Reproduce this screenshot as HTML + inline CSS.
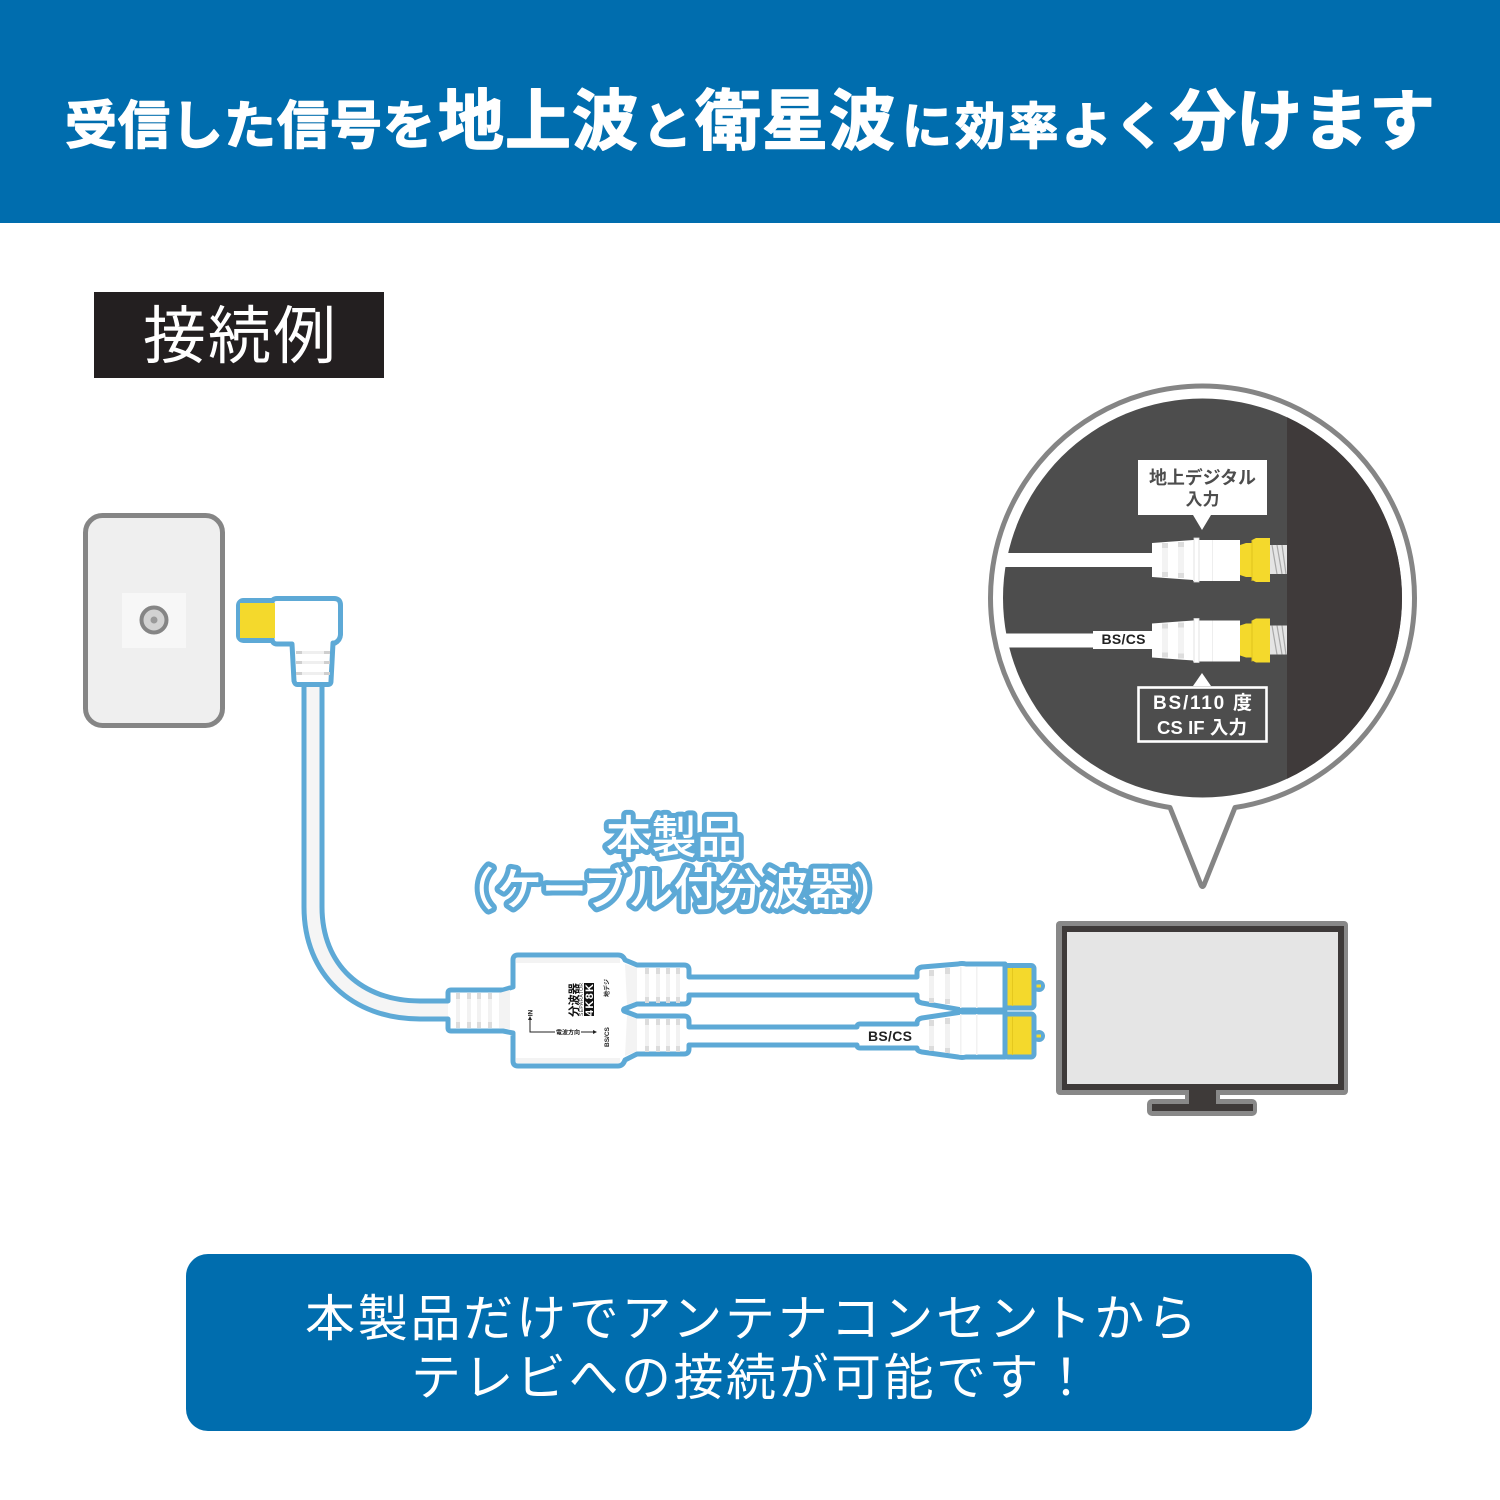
<!DOCTYPE html>
<html lang="ja"><head><meta charset="utf-8"><title>接続例</title>
<style>
html,body{margin:0;padding:0;background:#fff}
svg{display:block}
text{font-family:"Liberation Sans","Noto Sans CJK JP",sans-serif}
.cjk{font-family:"Noto Sans CJK JP","Liberation Sans",sans-serif}
.h{font-weight:700;fill:#fff;stroke:#fff;stroke-width:1.4;stroke-linejoin:round}
.b{stroke:#5DA9D6;stroke-width:5;stroke-linejoin:round;stroke-linecap:round}
.ol{font-size:45px;font-weight:500;fill:#fff;stroke:#5DA9D6;stroke-width:10;paint-order:stroke;stroke-linejoin:round}
</style></head><body>
<svg width="1500" height="1500" viewBox="0 0 1500 1500" xmlns="http://www.w3.org/2000/svg">
<rect width="1500" height="1500" fill="#fff"/>
<rect width="1500" height="223" fill="#006DAE"/>
<g class="cjk">
<text class="h cjk" x="65" y="144" font-size="52" textLength="370">受信した信号を</text>
<text class="h cjk" x="438" y="144" font-size="66" textLength="200">地上波</text>
<text class="h cjk" x="642" y="144" font-size="50" textLength="50">と</text>
<text class="h cjk" x="695" y="144" font-size="66" textLength="200">衛星波</text>
<text class="h cjk" x="902" y="144" font-size="50" textLength="263">に効率よく</text>
<text class="h cjk" x="1170" y="144" font-size="66" textLength="265">分けます</text>
</g>
<rect x="94" y="292" width="290" height="86" fill="#231F20"/>
<text class="cjk" x="143" y="358" font-size="63" fill="#fff" textLength="193">接続例</text>

<!-- wall plate -->
<rect x="85.5" y="515.5" width="137" height="210" rx="17" fill="#EFEFEF" stroke="#858585" stroke-width="5"/>
<rect x="122" y="593" width="64" height="55" fill="#F7F7F7"/>
<circle cx="154" cy="620" r="12.5" fill="#D2D2D2" stroke="#858585" stroke-width="4"/>
<circle cx="154" cy="620" r="3.5" fill="#999"/>

<!-- coax cable -->
<path d="M304,680 V907 C304,975 352,1019 420,1019 H450 V1001 H420 C362,1001 322,965 322,907 V680 Z" fill="#F5F5F5"/>
<path class="b" fill="none" d="M304,684 V907 C304,975 352,1019 420,1019 H448"/>
<path class="b" fill="none" d="M322,684 V907 C322,965 362,1001 420,1001 H448"/>

<!-- elbow plug -->
<rect class="b" x="238.5" y="600.5" width="40" height="40" rx="5" fill="#F4D92C"/>
<path class="b" fill="#fff" d="M272,603 Q272,598.5 277,598.5 H334 Q340.5,598.5 340.5,605 V634 Q340.5,640 335,643 H333 L331,681 Q331,684.5 328,684.5 H297 Q295,684.5 294,681 L292,644 H277 Q272,644 272,638 Z"/>
<rect x="240" y="603" width="35" height="35" fill="#F4D92C"/>
<g fill="#EFEFEF"><rect x="296" y="651" width="33" height="3"/><rect x="296" y="661" width="33" height="3"/><rect x="296" y="672" width="33" height="3"/></g>
<g fill="#CFCFCF"><rect x="296" y="651" width="6" height="3"/><rect x="296" y="661" width="6" height="3"/><rect x="296" y="672" width="6" height="3"/><rect x="324" y="651" width="6" height="3"/><rect x="324" y="661" width="6" height="3"/><rect x="324" y="672" width="6" height="3"/></g>

<!-- product label -->
<text class="ol cjk" x="606" y="853" textLength="136">本製品</text>
<text class="ol cjk" x="449" y="905">（</text>
<text class="ol cjk" x="497" y="905" textLength="356">ケーブル付分波器</text>
<text class="ol cjk" x="853" y="905">）</text>

<!-- nubs -->
<circle cx="1039" cy="986" r="6" fill="#5DA9D6"/>
<circle cx="1039" cy="1036" r="6" fill="#5DA9D6"/>
<rect x="1034" y="984.5" width="7" height="3" fill="#F4D92C"/>
<rect x="1034" y="1034.5" width="7" height="3" fill="#F4D92C"/>
<!-- splitter + cables outline -->
<path class="b" fill="#fff" d="M448,1001 V993 Q448,990 451,990 H503 L513,987 V960 Q513,955 518,955 H618 Q623,955 625,960 L637,965 H684 Q689,965 689,970 V977 H917 V972 Q917,968 922,967 L958,964 Q962,963 966,964 H1005 V1010 H962 L922,1003 Q917,1002 917,998 V995 H689 V999 Q689,1004 684,1004 H637 L624,1009 Q623,1010 624,1011 L637,1016 H684 Q689,1016 689,1021 V1027 H857 Q857,1024 860,1024 H917 V1023 Q917,1019 922,1018 L962,1012 H1005 V1057 H966 Q962,1058 958,1057 L922,1052 Q917,1051 917,1048 H860 Q857,1048 857,1045 H689 V1049 Q689,1054 684,1054 H637 L625,1060 Q623,1066 618,1066 H518 Q513,1066 513,1061 V1033 L503,1031 H451 Q448,1031 448,1028 V1019"/>
<line x1="962" y1="1011" x2="1005" y2="1011" stroke="#5DA9D6" stroke-width="6"/>
<!-- splitter shading -->
<g fill="#F3F3F3">
<rect x="516" y="958" width="104" height="5"/><rect x="516" y="1058" width="104" height="5"/>
<path d="M499,993 L510,990 V1029 L499,1028 Z"/>
<path d="M625,964 L637,968 V1001 L627,1005 Z"/><path d="M627,1015 L637,1019 V1051 L625,1056 Z"/>
</g>
<!-- stripes -->
<g fill="#F2F2F2">
<rect x="456" y="993" width="4" height="35"/><rect x="467" y="993" width="4" height="35"/><rect x="477" y="993" width="4" height="35"/><rect x="488" y="993" width="4" height="35"/>
<rect x="645" y="968" width="4" height="33"/><rect x="656" y="968" width="4" height="33"/><rect x="666" y="968" width="4" height="33"/><rect x="676" y="968" width="4" height="33"/>
<rect x="645" y="1019" width="4" height="33"/><rect x="656" y="1019" width="4" height="33"/><rect x="666" y="1019" width="4" height="33"/><rect x="676" y="1019" width="4" height="33"/>
<rect x="929" y="970" width="5" height="33"/><rect x="945" y="969" width="5" height="35"/>
<rect x="929" y="1020" width="5" height="31"/><rect x="945" y="1019" width="5" height="34"/>
<rect x="960" y="967" width="1.5" height="41"/><rect x="976" y="967" width="1.5" height="41"/>
<rect x="960" y="1014" width="1.5" height="41"/><rect x="976" y="1014" width="1.5" height="41"/>
</g>
<g fill="#DCDCDC">
<rect x="456" y="993" width="4" height="6"/><rect x="467" y="993" width="4" height="6"/><rect x="477" y="993" width="4" height="6"/><rect x="488" y="993" width="4" height="6"/>
<rect x="456" y="1022" width="4" height="6"/><rect x="467" y="1022" width="4" height="6"/><rect x="477" y="1022" width="4" height="6"/><rect x="488" y="1022" width="4" height="6"/>
<rect x="645" y="968" width="4" height="6"/><rect x="656" y="968" width="4" height="6"/><rect x="666" y="968" width="4" height="6"/><rect x="676" y="968" width="4" height="6"/>
<rect x="645" y="997" width="4" height="6"/><rect x="656" y="997" width="4" height="6"/><rect x="666" y="997" width="4" height="6"/><rect x="676" y="997" width="4" height="6"/>
<rect x="645" y="1019" width="4" height="6"/><rect x="656" y="1019" width="4" height="6"/><rect x="666" y="1019" width="4" height="6"/><rect x="676" y="1019" width="4" height="6"/>
<rect x="645" y="1046" width="4" height="6"/><rect x="656" y="1046" width="4" height="6"/><rect x="666" y="1046" width="4" height="6"/><rect x="676" y="1046" width="4" height="6"/>
<rect x="929" y="970" width="5" height="6"/><rect x="945" y="968" width="5" height="6"/><rect x="929" y="998" width="5" height="5"/><rect x="945" y="999" width="5" height="5"/>
<rect x="929" y="1020" width="5" height="6"/><rect x="945" y="1018" width="5" height="6"/><rect x="929" y="1046" width="5" height="5"/><rect x="945" y="1048" width="5" height="5"/>
</g>
<!-- yellow ends -->
<rect class="b" x="1005" y="965.5" width="29" height="42.5" rx="3" fill="#F4D92C"/>
<rect class="b" x="1005" y="1014" width="29" height="43" rx="3" fill="#F4D92C"/>
<rect x="1012" y="968" width="1" height="38" fill="#E5C81E"/><rect x="1012" y="1017" width="1" height="38" fill="#E5C81E"/>
<text x="890" y="1041" font-size="14" font-weight="700" fill="#222" text-anchor="middle" textLength="44">BS/CS</text>

<!-- splitter labels -->
<g transform="translate(578,1017) rotate(-90)"><text class="cjk" font-size="11.5" font-weight="700" fill="#111" textLength="34">分波器</text></g>
<g transform="translate(583,1016) rotate(-90)"><text font-size="5" fill="#333" textLength="33">SEPARATOR</text></g>
<rect x="584" y="983" width="10" height="33" fill="#111"/>
<g transform="translate(593,1016) rotate(-90)"><text font-size="11" font-weight="700" fill="#fff" textLength="32">4K8K</text></g>
<g transform="translate(609,997) rotate(-90)"><text class="cjk" font-size="6" font-weight="700" fill="#222">地デジ</text></g>
<g transform="translate(609,1047) rotate(-90)"><text font-size="6.5" font-weight="700" fill="#222">BS/CS</text></g>
<g transform="translate(532.5,1013) rotate(-90)"><text font-size="6.5" font-weight="700" fill="#222" text-anchor="middle">IN</text></g>
<path d="M530,1019 V1032 H595" fill="none" stroke="#222" stroke-width="1"/>
<path d="M530,1016 l-2,4 h4 Z M597,1032 l-4,-2 v4 Z" fill="#222"/>
<rect x="555" y="1028" width="26" height="8" fill="#fff"/>
<text class="cjk" x="568" y="1034.5" font-size="6" font-weight="700" fill="#222" text-anchor="middle">電波方向</text>

<!-- TV -->
<rect x="1056" y="921" width="292" height="174" rx="4" fill="#888"/>
<rect x="1062" y="926" width="282" height="164" fill="#3E3A39"/>
<rect x="1067" y="932" width="271" height="152" fill="#E5E5E5"/>
<rect x="1185" y="1090" width="35" height="12" fill="#888"/>
<rect x="1147" y="1099" width="110" height="17" rx="5" fill="#888"/>
<rect x="1189" y="1090" width="27" height="15" fill="#3E3A39"/>
<rect x="1152" y="1104" width="101" height="7" fill="#3E3A39"/>

<!-- callout -->
<path d="M1170,807.5 A212,212 0 1 1 1235,807.5 L1204,885 Q1202.5,888 1201,885 Z" fill="#fff" stroke="#858585" stroke-width="5" stroke-linejoin="round"/>
<clipPath id="c"><circle cx="1202.5" cy="598" r="199.5"/></clipPath>
<g clip-path="url(#c)">
<rect x="1000" y="390" width="410" height="420" fill="#4D4D4D"/>
<rect x="1287" y="390" width="125" height="420" fill="#3F3A3A"/>
</g>
<rect x="1138" y="460" width="129" height="55" fill="#fff"/>
<path d="M1193,515 H1211 L1202,530 Z" fill="#fff"/>
<text class="cjk" x="1149" y="484" font-size="18" font-weight="700" fill="#4D4D4D" textLength="107">地上デジタル</text>
<text class="cjk" x="1202.5" y="505" font-size="17" font-weight="700" fill="#4D4D4D" text-anchor="middle">入力</text>

<g id="conn">
<rect x="1003" y="553" width="150" height="14" fill="#fff"/>
<path d="M1152,543 L1193,540 V580 L1152,577 Z" fill="#fff"/>
<rect x="1162" y="543" width="6" height="34" fill="#F3F3F3"/><rect x="1178" y="542" width="6" height="36" fill="#F3F3F3"/>
<rect x="1162" y="543" width="6" height="5" fill="#DDD"/><rect x="1178" y="542" width="6" height="5" fill="#DDD"/><rect x="1162" y="572" width="6" height="5" fill="#DDD"/><rect x="1178" y="573" width="6" height="5" fill="#DDD"/>
<rect x="1193" y="540" width="47" height="41" fill="#fff"/>
<rect x="1194" y="538" width="5" height="44" fill="#fff" stroke="#DDD" stroke-width=".8"/>
<rect x="1212" y="540" width="1" height="41" fill="#EEE"/>
<rect x="1270" y="545" width="17" height="29" fill="#E4E4E4"/>
<path d="M1272,545 l5,29 M1277,545 l5,29 M1282,545 l4,29" stroke="#A8A8A8" stroke-width="1.2" fill="none"/>
<path d="M1240,545 L1246,543 H1252 V540 L1256,538 H1270 V582 H1256 L1252,580 V577 H1246 L1240,575 Z" fill="#F4D92C"/>
<rect x="1251.5" y="540" width="1" height="41" fill="#E0C41C"/>
</g>
<use href="#conn" transform="translate(0,80.5)"/>
<rect x="1093" y="631" width="60" height="18" fill="#fff"/>
<text x="1123.5" y="644" font-size="14" font-weight="700" fill="#222" text-anchor="middle" textLength="44">BS/CS</text>

<path d="M1193,686 L1202,673 L1211,686 Z" fill="#fff"/>
<rect x="1138.5" y="687.5" width="128" height="54" fill="none" stroke="#fff" stroke-width="2.6"/>
<text x="1153" y="709" font-size="19" font-weight="700" fill="#fff" textLength="99">BS/110 度</text>
<text x="1157" y="734" font-size="18.5" font-weight="700" fill="#fff" textLength="90">CS IF 入力</text>

<!-- bottom banner -->
<rect x="186" y="1254" width="1126" height="177" rx="22" fill="#006DAE"/>
<text class="cjk" x="305" y="1336" font-size="50" fill="#fff" textLength="892">本製品だけでアンテナコンセントから</text>
<text class="cjk" x="411" y="1395" font-size="50" fill="#fff" textLength="680">テレビへの接続が可能です！</text>
</svg>
</body></html>
